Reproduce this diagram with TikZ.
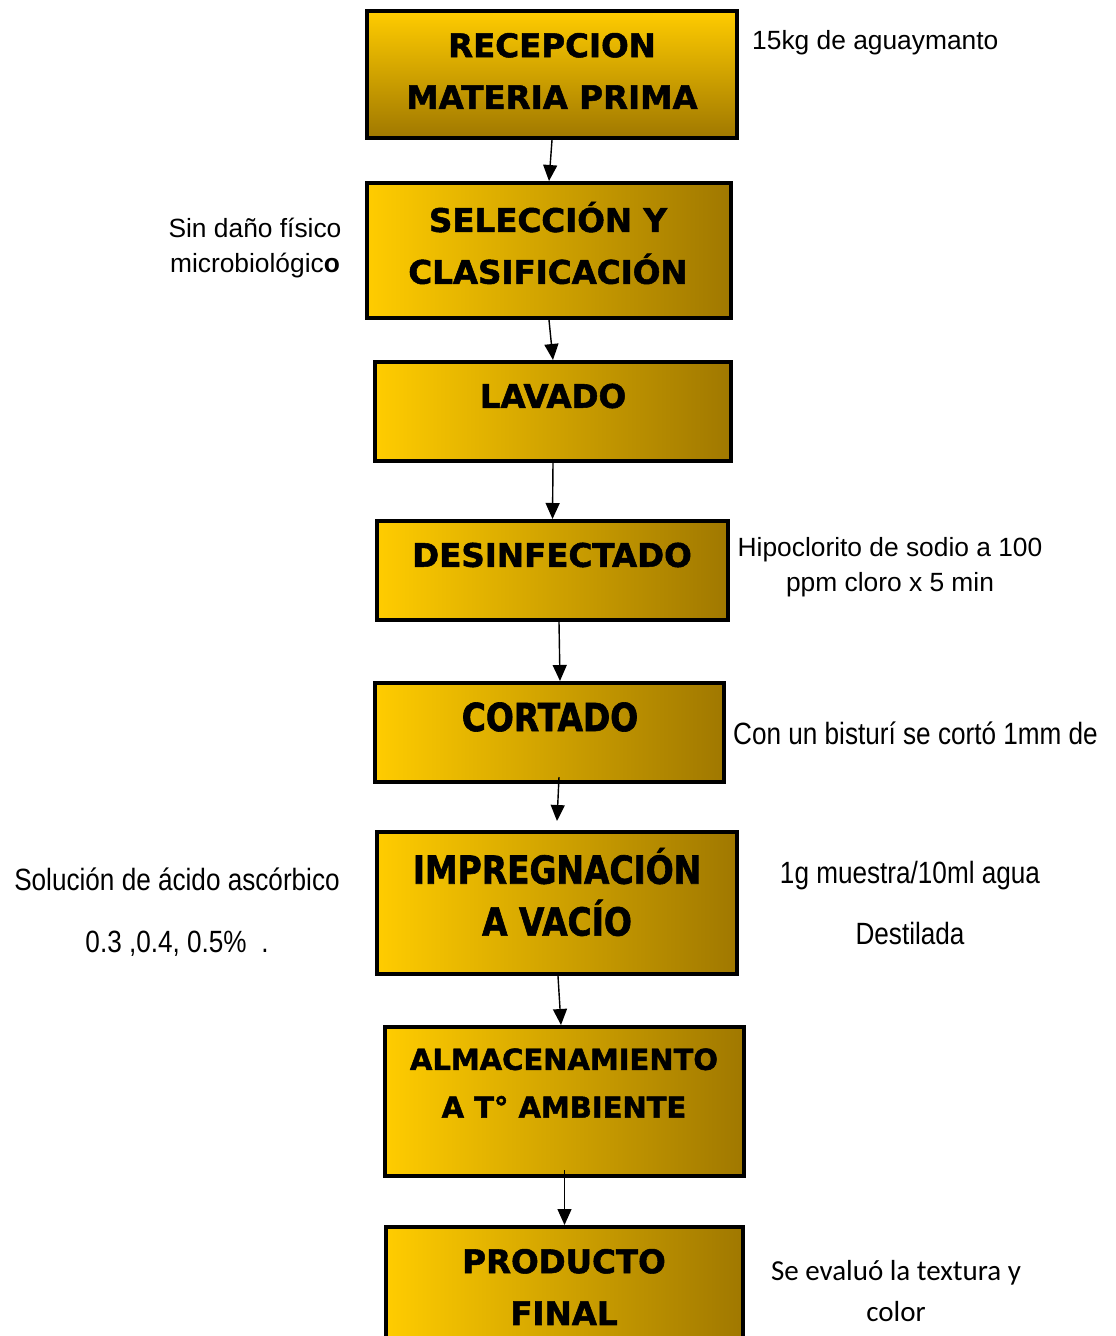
\documentclass[tikz,border=0pt]{standalone}
\usepackage{fontspec}
\setmainfont{Liberation Sans}
\newfontfamily\heavyfont[FakeBold=1.6]{DejaVu Sans Bold}
\newfontfamily\heavynarrow[FakeBold=1.6,FakeStretch=0.85]{DejaVu Sans Bold}
\newfontfamily\narrowfont[FakeStretch=0.85]{Liberation Sans}
\newfontfamily\calibrifont{Carlito}
\usetikzlibrary{arrows.meta}
\definecolor{goldlight}{HTML}{FFCC00}
\definecolor{golddark}{HTML}{A07800}

\begin{document}
\begin{tikzpicture}[x=0.02cm, y=-0.02cm,
    box/.style={draw, line width=2.3pt, left color=goldlight, right color=golddark, inner sep=0pt},
    title/.style={font=\heavyfont\fontsize{18.5}{29.5}\selectfont, align=center},
    titlenarrow/.style={font=\heavynarrow\fontsize{22}{29.5}\selectfont, align=center},
    note/.style={font=\fontsize{15}{20}\selectfont, align=center},
    narrownote/.style={font=\narrowfont\fontsize{17.5}{35}\selectfont, align=center},
    flow/.style={-{Triangle[length=3.2mm,width=2.8mm]}, line width=0.8pt}]
    \useasboundingbox (0,0) rectangle (1116,1336);
    \clip (0,0) rectangle (1116,1336);
    % process boxes
    \node[box, top color=goldlight, bottom color=golddark, minimum width=7.4cm, minimum height=2.54cm] (b1) at (552,74.5) {};
    \node[box, minimum width=7.28cm, minimum height=2.7cm] (b2) at (549,250.5) {};
    \node[box, minimum width=7.12cm, minimum height=1.98cm] (b3) at (553,411.5) {};
    \node[box, minimum width=7.02cm, minimum height=1.98cm] (b4) at (552.5,570.5) {};
    \node[box, minimum width=6.98cm, minimum height=1.98cm] (b5) at (549.5,732.5) {};
    \node[box, minimum width=7.2cm, minimum height=2.84cm] (b6) at (557,903) {};
    \node[box, minimum width=7.18cm, minimum height=2.98cm] (b7) at (564.5,1101.5) {};
    \node[box, minimum width=7.14cm, minimum height=3.06cm] (b8) at (564.5,1303.5) {};
    % arrows
    \draw[flow] (b1.south) -- (b2.north);
    \draw[flow] (b2.south) -- (b3.north);
    \draw[flow] (b3.south) -- (b4.north);
    \draw[flow] ([xshift=0.13cm]b4.south) -- ([xshift=0.21cm]b5.north);
    \draw[flow] ([xshift=0.19cm,yshift=0.14cm]b5.south) -- ([yshift=0.18cm]b6.north);
    \draw[flow] ([xshift=0.02cm]b6.south) -- ([xshift=-0.07cm]b7.north);
    \draw[flow] ([yshift=0.16cm]b7.south) -- (b8.north);
    % titles
    \node[title] (t1) at (552,71) {RECEPCION\\MATERIA PRIMA};
    \node[title] (t2) at (548,243) {SELECCIÓN Y\\CLASIFICACIÓN};
    \node[title] (t3) at (553,396) {LAVADO};
    \node[title] (t4) at (552,555) {DESINFECTADO};
    \node[titlenarrow] (t5) at (550,717) {CORTADO};
    \node[titlenarrow] (t6) at (557,892) {IMPREGNACIÓN\\A VACÍO};
    \node[title, font=\heavyfont\fontsize{16.5}{27.2}\selectfont] (t7) at (564,1083) {ALMACENAMIENTO\\A T° AMBIENTE};
    \node[title] (t8) at (564,1287) {PRODUCTO\\FINAL};
    % side notes
    \node[note, anchor=west] (n1) at (746,43) {15kg de aguaymanto};
    \node[note] (n2) at (255,248) {Sin daño físico\\microbiológic\textbf{o}};
    \node[note, font=\fontsize{15}{19.8}\selectfont] (n4) at (890,567) {Hipoclorito de sodio a 100\\ppm cloro x 5 min};
    \node[narrownote, anchor=west] (n5) at (727,733) {Con un bisturí se cortó 1mm de};
    \node[narrownote] (n6a) at (177,912) {Solución de ácido ascórbico\\0.3 ,0.4, 0.5\%\ \ .};
    \node[narrownote] (n6b) at (910,903) {1g muestra/10ml agua\\Destilada};
    \node[font=\calibrifont\fontsize{16.5}{23}\selectfont, align=center] (n8) at (896,1291) {Se evaluó la textura y\\color};
\end{tikzpicture}
\end{document}
